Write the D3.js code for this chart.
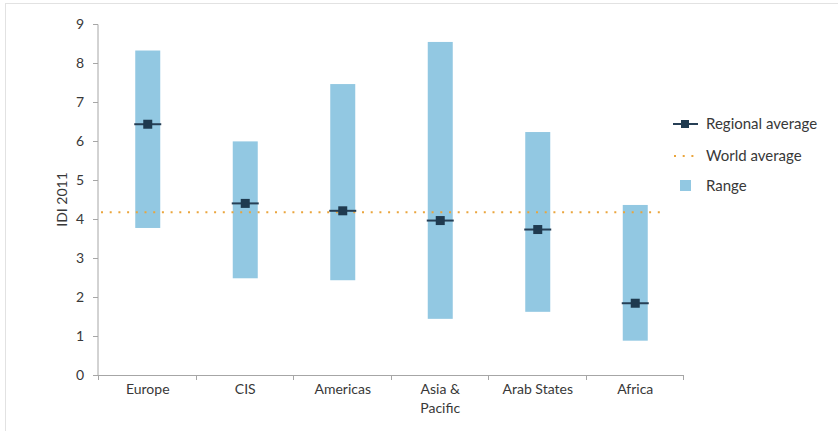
<!DOCTYPE html>
<html>
<head>
<meta charset="utf-8">
<script src="https://cdn.jsdelivr.net/npm/d3@7"></script>
<style>
  html, body { margin: 0; padding: 0; background: #fff; }
  svg { display: block; font-family: Lato, "Open Sans", sans-serif; }
</style>
</head>
<body>
<svg id="chart" width="838" height="431"></svg>
<script>
// ICT Development Index 2011 by region: min–max range and regional average
const regions = ["Europe", "CIS", "Americas", "Asia & Pacific", "Arab States", "Africa"];
const rangeMin = [3.77, 2.48, 2.43, 1.44, 1.62, 0.88];
const rangeMax = [8.32, 5.99, 7.46, 8.54, 6.23, 4.36];
const regionalAvg = [6.43, 4.40, 4.21, 3.96, 3.73, 1.84];
const worldAvg = 4.17;
const yTicks = [0, 1, 2, 3, 4, 5, 6, 7, 8, 9];
const legendLabels = ["Regional average", "World average", "Range"];

const svg = d3.select("#chart");
const W = 838, H = 431;

// light frame
svg.append("line").attr("x1", 5).attr("x2", W).attr("y1", 3.5).attr("y2", 3.5)
  .attr("stroke", "#e2e2e2").attr("stroke-width", 1);
svg.append("line").attr("x1", 5.5).attr("x2", 5.5).attr("y1", 3).attr("y2", H)
  .attr("stroke", "#e2e2e2").attr("stroke-width", 1);

const plot = { left: 99, right: 684, top: 24, bottom: 375 };

const x = d3.scaleBand().domain(regions).range([plot.left, plot.right]).paddingInner(0).paddingOuter(0);
const y = d3.scaleLinear().domain([0, 9]).range([plot.bottom, plot.top]);

const barW = 25;
const axisColor = "#a6a6a6";
const textColor = "#383838";

// range bars
svg.append("g").selectAll("rect").data(regions).join("rect")
  .attr("x", d => x(d) + x.bandwidth() / 2 - barW / 2)
  .attr("width", barW)
  .attr("y", (d, i) => y(rangeMax[i]))
  .attr("height", (d, i) => y(rangeMin[i]) - y(rangeMax[i]))
  .attr("fill", "#92c8e2");

// world average dotted line
svg.append("line")
  .attr("x1", plot.left + 2).attr("x2", 664)
  .attr("y1", y(worldAvg)).attr("y2", y(worldAvg))
  .attr("stroke", "#eaa53c").attr("stroke-width", 2)
  .attr("stroke-dasharray", "2,6.7");

// regional average markers
const avgG = svg.append("g");
avgG.selectAll("line").data(regions).join("line")
  .attr("x1", d => x(d) + x.bandwidth() / 2 - barW / 2 - 1)
  .attr("x2", d => x(d) + x.bandwidth() / 2 + barW / 2 + 1)
  .attr("y1", (d, i) => y(regionalAvg[i]))
  .attr("y2", (d, i) => y(regionalAvg[i]))
  .attr("stroke", "#263f55").attr("stroke-width", 2);
avgG.selectAll("rect").data(regions).join("rect")
  .attr("x", d => x(d) + x.bandwidth() / 2 - 4.5)
  .attr("y", (d, i) => y(regionalAvg[i]) - 4.5)
  .attr("width", 9).attr("height", 9)
  .attr("fill", "#1f3a4f");

// y axis
const yAxis = svg.append("g").attr("transform", `translate(${plot.left - 1},0)`)
  .call(d3.axisLeft(y).tickValues(yTicks).tickFormat(d3.format("d")).tickSize(5).tickPadding(9));
yAxis.select(".domain").attr("stroke", axisColor).attr("d", `M-5,${plot.top + 0.5}H0V${plot.bottom + 0.5}`);
yAxis.selectAll(".tick line").attr("stroke", axisColor);
yAxis.selectAll(".tick text").attr("fill", textColor).style("font-size", "14px")
  .style("font-family", "Lato, 'Open Sans', sans-serif");

// x axis with ticks at category boundaries
const xAxisG = svg.append("g");
xAxisG.append("line")
  .attr("x1", plot.left - 1).attr("x2", plot.right).attr("y1", plot.bottom + 0.5).attr("y2", plot.bottom + 0.5)
  .attr("stroke", axisColor);
const bounds = regions.map(d => x(d)).concat([x(regions[regions.length - 1]) + x.bandwidth()]);
xAxisG.selectAll("line.tk").data(bounds).join("line").attr("class", "tk")
  .attr("x1", d => Math.round(d) - 0.5).attr("x2", d => Math.round(d) - 0.5)
  .attr("y1", plot.bottom).attr("y2", plot.bottom + 5)
  .attr("stroke", axisColor);

// category labels (wrap "Asia & Pacific")
regions.forEach(r => {
  const t = xAxisG.append("text")
    .attr("x", x(r) + x.bandwidth() / 2)
    .attr("y", 394)
    .attr("text-anchor", "middle")
    .attr("fill", textColor)
    .style("font-size", "14px");
  const parts = r === "Asia & Pacific" ? ["Asia &", "Pacific"] : [r];
  parts.forEach((p, k) => {
    t.append("tspan").attr("x", x(r) + x.bandwidth() / 2).attr("dy", k === 0 ? 0 : 19).text(p);
  });
});

// y axis title
svg.append("text")
  .attr("transform", `translate(67,${(plot.top + plot.bottom) / 2}) rotate(-90)`)
  .attr("text-anchor", "middle")
  .attr("fill", textColor)
  .style("font-size", "14px")
  .text("IDI 2011");

// legend
const lg = svg.append("g");
const legY = [124, 156, 186];
lg.append("line").attr("x1", 673).attr("x2", 698).attr("y1", legY[0]).attr("y2", legY[0])
  .attr("stroke", "#263f55").attr("stroke-width", 2);
lg.append("rect").attr("x", 681).attr("y", legY[0] - 4).attr("width", 8).attr("height", 8).attr("fill", "#1f3a4f");
lg.append("line").attr("x1", 674).attr("x2", 698).attr("y1", legY[1]).attr("y2", legY[1])
  .attr("stroke", "#eaa53c").attr("stroke-width", 2).attr("stroke-dasharray", "2,6.7");
lg.append("rect").attr("x", 680).attr("y", legY[2] - 6).attr("width", 11).attr("height", 11).attr("fill", "#92c8e2");
lg.selectAll("text").data(legendLabels).join("text")
  .attr("x", 706).attr("y", (d, i) => legY[i] + 5)
  .attr("fill", textColor)
  .style("font-size", "15px")
  .text(d => d);
</script>
</body>
</html>
